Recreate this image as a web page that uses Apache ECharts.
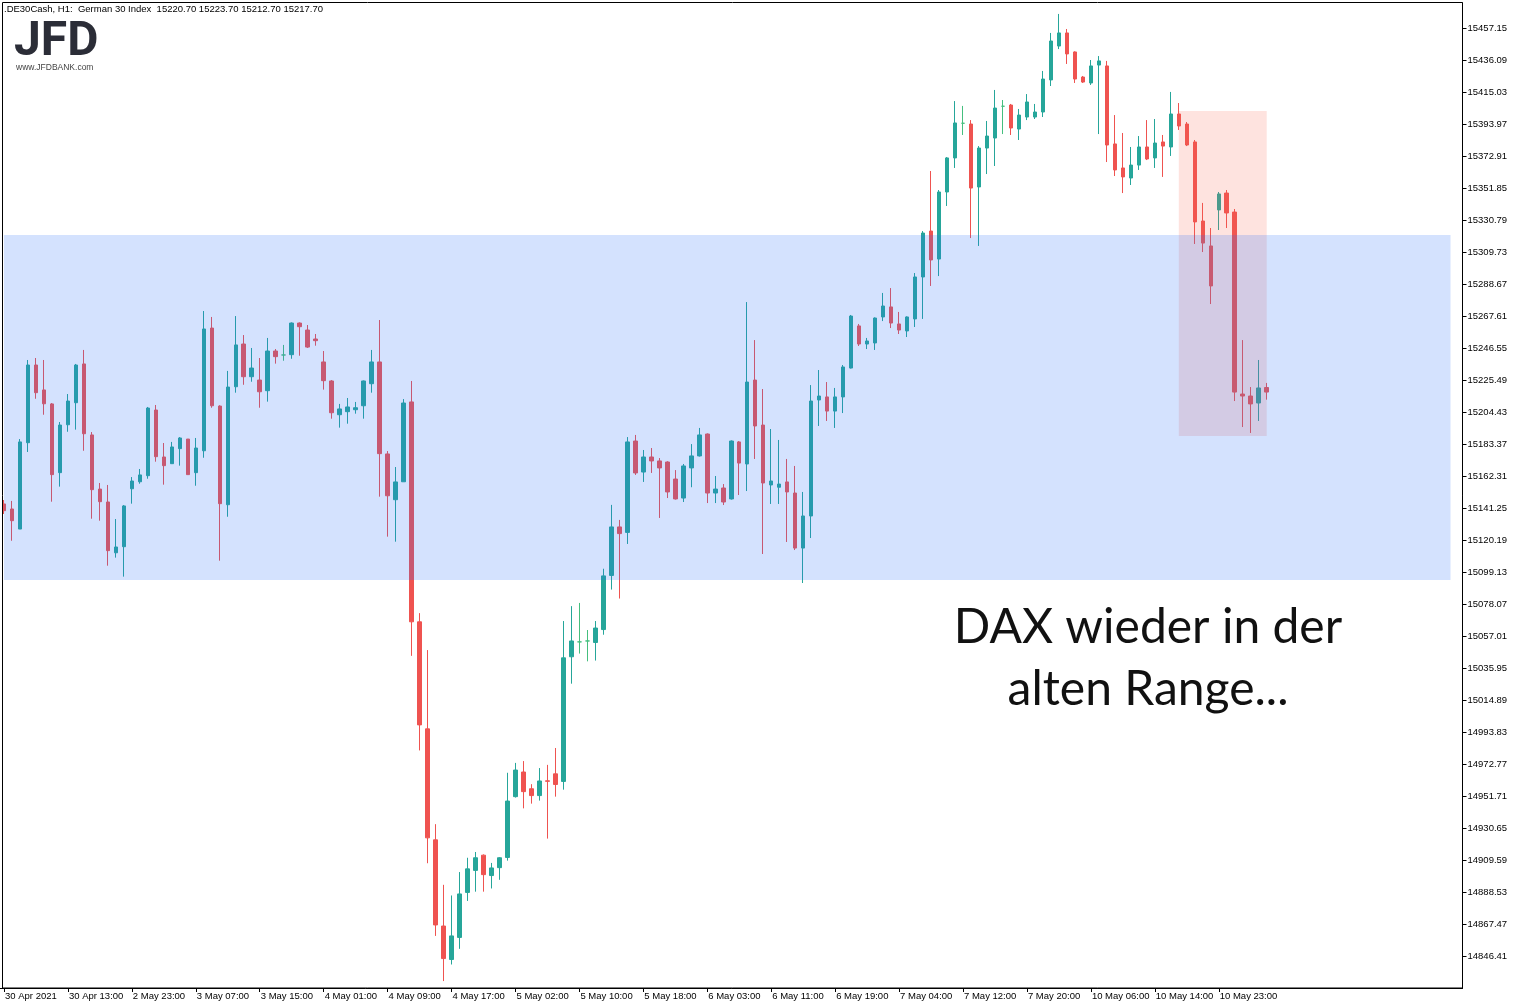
<!DOCTYPE html>
<html>
<head>
<meta charset="utf-8">
<style>
html,body{margin:0;padding:0;background:#fff;}
#chart{width:1520px;height:1008px;}
</style>
<script src="https://cdn.jsdelivr.net/npm/echarts@6/dist/echarts.min.js"></script>
</head>
<body>
<div id="chart"></div>
<script>
// ---------------- DATA ----------------
const symbolTitle = '.DE30Cash, H1:  German 30 Index';

const open = [
15144.1,15140.8,15127.6,15184.4,15235.5,15219.1,15209.9,15164.7,15196.2,15210.7,
15236.2,15189.5,15153.9,15145.4,15112.0,15116.0,15154.1,15158.7,15162.7,15205.9,
15175.0,15170.6,15180.5,15186.8,15164.7,15179.1,15259.8,15208.5,15143.6,15221.2,
15249.3,15227.8,15225.6,15218.6,15244.7,15242.1,15242.3,15263.1,15258.5,15252.6,
15237.5,15225.0,15202.8,15204.8,15206.1,15208.7,15223.2,15237.5,15177.0,15146.9,
15158.7,15211.2,15066.6,14996.2,14923.2,14866.5,14844.5,14859.0,14888.6,14903.1,
14913.1,14899.7,14904.9,14911.6,14951.6,14967.8,14956.8,14952.3,14962.0,14966.6,
14961.6,15043.6,15053.4,15054.0,15053.0,15061.5,15097.1,15129.0,15125.4,15185.5,
15165.1,15175.0,15172.4,15171.7,15160.5,15148.0,15167.8,15175.7,15190.1,15151.3,
15154.6,15147.4,15184.9,15170.4,15225.6,15196.0,15156.6,15155.1,15158.6,15151.3,
15115.1,15136.2,15212.5,15214.5,15205.2,15214.5,15233.5,15261.2,15249.3,15250.0,
15267.1,15273.7,15262.5,15257.9,15265.8,15293.4,15323.6,15305.2,15349.3,15371.7,
15394.5,15394.0,15352.6,15378.2,15384.8,15405.7,15406.5,15390.7,15398.6,15398.6,
15401.9,15423.0,15445.3,15453.9,15441.4,15424.9,15421.0,15432.8,15432.2,15380.9,
15365.1,15358.5,15367.0,15378.9,15371.7,15382.2,15378.9,15400.6,15394.0,15382.2,
15330.2,15313.8,15337.5,15348.6,15336.1,15216.4,15215.1,15210.5,15220.7
];
const close = [
15139.7,15133.1,15184.9,15235.5,15217.3,15210.0,15163.4,15196.0,15211.8,15235.5,
15190.3,15153.5,15145.6,15113.4,15115.8,15142.8,15159.2,15163.2,15207.2,15175.2,
15169.3,15181.6,15187.5,15163.4,15180.9,15259.2,15208.7,15144.3,15221.0,15248.7,
15227.8,15233.5,15217.9,15244.7,15241.0,15242.1,15263.1,15260.7,15247.3,15251.5,
15225.2,15204.1,15206.6,15207.9,15207.4,15225.0,15237.5,15177.2,15149.5,15158.6,
15210.5,15066.6,14998.8,14924.5,14867.2,14845.1,14860.0,14887.6,14904.1,14911.4,
14900.3,14904.7,14911.4,14948.7,14969.1,14954.9,14952.3,14961.9,14961.7,14959.6,
15042.9,15054.0,15053.4,15054.0,15062.5,15096.8,15129.0,15124.6,15184.9,15164.5,
15175.0,15172.4,15167.8,15152.0,15147.4,15169.1,15175.7,15189.5,15151.3,15153.9,
15145.4,15185.5,15171.0,15224.3,15195.4,15157.9,15159.2,15157.2,15152.0,15115.1,
15136.2,15211.8,15215.1,15205.2,15214.5,15234.2,15267.7,15249.3,15251.3,15266.4,
15274.3,15263.1,15258.5,15267.1,15293.4,15322.3,15304.6,15349.3,15371.7,15394.7,
15394.5,15351.9,15378.2,15386.1,15404.5,15405.7,15391.4,15399.9,15408.5,15401.9,
15423.6,15448.6,15453.9,15440.1,15423.6,15421.6,15432.2,15435.5,15380.2,15363.8,
15359.2,15367.0,15378.9,15371.0,15381.5,15379.5,15400.6,15392.7,15380.2,15329.6,
15315.7,15287.5,15348.0,15335.5,15217.7,15215.1,15209.9,15220.4,15217.7
];
const low = [
15137.5,15119.9,15127.6,15178.3,15213.3,15202.8,15145.6,15155.5,15191.6,15193.0,
15179.1,15134.4,15133.1,15103.5,15108.8,15096.3,15144.3,15157.4,15160.7,15171.9,
15156.8,15170.6,15169.3,15163.4,15156.1,15174.5,15207.4,15106.8,15135.7,15217.3,
15222.5,15224.5,15207.4,15211.4,15236.4,15238.3,15239.6,15241.6,15246.7,15248.2,
15219.3,15200.2,15194.3,15196.9,15203.5,15200.2,15217.3,15148.9,15122.6,15119.3,
15158.7,15044.2,14982.0,14907.8,14860.0,14830.3,14841.2,14851.5,14883.0,14889.1,
14889.1,14891.2,14896.9,14909.5,14951.0,14943.9,14947.0,14949.0,14924.0,14951.6,
14956.2,15025.9,15045.7,15040.6,15041.1,15058.1,15087.8,15081.9,15117.8,15163.2,
15158.6,15164.5,15134.9,15148.0,15147.0,15145.4,15155.1,15175.3,15144.7,15144.7,
15143.4,15147.0,15150.0,15152.6,15173.7,15111.2,15144.1,15144.1,15119.1,15113.8,
15092.1,15121.7,15195.4,15198.7,15194.1,15203.9,15233.2,15248.0,15246.0,15245.4,
15264.4,15259.8,15255.9,15253.9,15260.5,15265.8,15287.5,15294.0,15340.1,15365.1,
15386.8,15319.0,15313.8,15361.1,15366.4,15387.4,15386.8,15383.5,15396.6,15397.3,
15398.6,15419.0,15443.3,15433.5,15421.0,15421.0,15419.7,15387.4,15369.0,15359.8,
15348.6,15353.9,15363.8,15370.3,15365.1,15359.2,15373.0,15390.1,15379.5,15315.1,
15309.8,15275.6,15324.3,15325.6,15211.8,15194.7,15190.8,15198.7,15212.7
];
const high = [
15146.7,15146.1,15186.8,15238.8,15240.1,15238.8,15210.5,15198.0,15216.4,15236.2,
15245.4,15191.4,15157.9,15156.6,15134.2,15143.4,15161.8,15167.1,15207.9,15209.2,
15184.2,15184.9,15188.1,15186.8,15187.5,15271.0,15267.1,15209.0,15231.6,15267.7,
15255.2,15246.7,15240.1,15253.3,15246.0,15248.7,15263.5,15263.5,15261.8,15255.9,
15244.7,15225.6,15209.9,15213.8,15211.2,15225.3,15245.4,15265.1,15178.9,15168.4,
15213.1,15225.0,15072.3,15048.0,14933.5,14893.6,14886.6,14902.0,14911.4,14915.2,
14913.6,14908.0,14911.8,14967.3,14973.8,14975.0,14959.8,14970.4,14972.5,14983.6,
15067.1,15076.9,15079.0,15061.2,15067.1,15101.5,15143.5,15133.6,15188.1,15189.5,
15179.6,15180.9,15174.3,15172.2,15166.4,15170.4,15183.5,15194.1,15190.5,15162.5,
15157.2,15185.9,15185.5,15276.9,15251.9,15219.7,15193.4,15186.2,15173.7,15169.1,
15152.0,15222.3,15232.2,15224.3,15220.4,15235.5,15268.4,15262.5,15253.3,15266.8,
15282.9,15286.1,15270.4,15267.5,15296.0,15323.6,15363.1,15350.6,15372.3,15409.1,
15405.9,15396.6,15379.5,15396.0,15416.4,15409.8,15407.2,15403.9,15413.7,15407.2,
15428.9,15453.9,15466.4,15456.5,15441.8,15425.6,15436.1,15438.7,15435.5,15399.9,
15388.1,15378.9,15386.1,15396.6,15397.3,15386.8,15415.1,15407.8,15395.3,15383.5,
15342.1,15325.6,15349.3,15350.6,15338.1,15251.9,15221.0,15238.8,15223.7
];

// time labels shown every 8 bars
const timeLabels = ['30 Apr 2021','30 Apr 13:00','2 May 23:00','3 May 07:00','3 May 15:00',
  '4 May 01:00','4 May 09:00','4 May 17:00','5 May 02:00','5 May 10:00','5 May 18:00',
  '6 May 03:00','6 May 11:00','6 May 19:00','7 May 04:00','7 May 12:00','7 May 20:00',
  '10 May 06:00','10 May 14:00','10 May 23:00'];
const barsPerLabel = 8;

// price scale tick labels
const priceTicks = [14846.41,14867.47,14888.53,14909.59,14930.65,14951.71,14972.77,14993.83,
  15014.89,15035.95,15057.01,15078.07,15099.13,15120.19,15141.25,15162.31,15183.37,15204.43,
  15225.49,15246.55,15267.61,15288.67,15309.73,15330.79,15351.85,15372.91,15393.97,15415.03,
  15436.09,15457.15];
const priceMin = 14825.74, priceMax = 15473.6;

// "old range" band and highlighted drop box
const rangeTop = 15321.0, rangeBottom = 15094.1;
const rangeFromBar = 0, rangeToBar = 181;
const boxTop = 15402.6, boxBottom = 15188.8;
const boxFromBar = 147, boxToBar = 158;

const annotation = ['DAX wieder in der', 'alten Range...'];

// ---------------- CHART ----------------
const emptySlotsRight = 24;
const categories = Array.from({length: open.length + emptySlotsRight}, (_, i) => String(i));
const candles = open.map((o, i) => [o, close[i], low[i], high[i]]);
const last = open.length - 1;
const headerText = symbolTitle + '  ' + [open[last], high[last], low[last], close[last]].map(v => v.toFixed(2)).join(' ');
const showTick = (i) => i % barsPerLabel === 0 && i / barsPerLabel < timeLabels.length;

const axisFont = 'Liberation Sans';
const chart = echarts.init(document.getElementById('chart'), null, {renderer: 'canvas'});
chart.setOption({
  animation: false,
  backgroundColor: '#ffffff',
  title: {
    text: headerText, left: 4, top: 4, padding: 0,
    textStyle: {fontSize: 9.5, fontWeight: 'normal', color: '#000', fontFamily: axisFont}
  },
  grid: {left: -1.5, right: 57.5, top: 3, bottom: 20, containLabel: false},
  xAxis: {
    type: 'category', data: categories, boundaryGap: true,
    axisLine: {show: true, lineStyle: {color: '#000', width: 1}},
    axisTick: {show: true, alignWithLabel: true, interval: showTick, length: 4, lineStyle: {color: '#000'}},
    axisLabel: {
      interval: showTick, align: 'left', margin: 3, padding: [0, 0, 0, 1],
      formatter: (v) => timeLabels[Number(v) / barsPerLabel] || '',
      fontSize: 9.5, color: '#000', fontFamily: axisFont
    },
    splitLine: {show: false}
  },
  yAxis: {
    type: 'value', position: 'right', min: priceMin, max: priceMax, scale: true,
    axisLine: {show: true, lineStyle: {color: '#000', width: 1}},
    axisTick: {show: true, length: 4, customValues: priceTicks, lineStyle: {color: '#000'}},
    axisLabel: {customValues: priceTicks, formatter: (v) => v.toFixed(2), margin: 5,
      fontSize: 9.5, color: '#000', fontFamily: axisFont},
    splitLine: {show: false}
  },
  series: [
    {
      type: 'candlestick', data: candles, barWidth: 4, z: 2,
      itemStyle: {
        color: '#26A69A', color0: '#EF5350',
        borderColor: '#26A69A', borderColor0: '#EF5350', borderColorDoji: '#45BF7E',
        borderWidth: 1
      }
    },
    {
      type: 'line', data: [], z: 3, silent: true,
      markArea: {
        silent: true, z: 3,
        itemStyle: {color: 'rgba(250,100,80,0.18)'},
        data: [[{xAxis: boxFromBar, yAxis: boxTop}, {xAxis: boxToBar, yAxis: boxBottom}]]
      }
    },
    {
      type: 'line', data: [], z: 4, silent: true,
      markArea: {
        silent: true, z: 4,
        itemStyle: {color: 'rgba(40,110,250,0.2)'},
        data: [[{xAxis: rangeFromBar, yAxis: rangeTop}, {xAxis: rangeToBar, yAxis: rangeBottom}]]
      }
    }
  ],
  graphic: [
    {type: 'rect', z: 50, silent: true,
      shape: {x: 2.5, y: 2.5, width: 1460, height: 985.5},
      style: {fill: null, stroke: '#000', lineWidth: 1}},
    {type: 'text', z: 60, silent: true, x: 14, y: 42.5,
      style: {text: 'JFD', font: 'bold 48px Roboto', fill: '#2b2d37', verticalAlign: 'middle'}},
    {type: 'text', z: 60, silent: true, x: 16, y: 68,
      style: {text: 'www.JFDBANK.com', font: '8.5px "Liberation Sans"', fill: '#444', verticalAlign: 'middle'}},
    {type: 'text', z: 60, silent: true, x: 1148, y: 628,
      style: {text: annotation[0], font: '48px Lato', fill: '#111', align: 'center', verticalAlign: 'middle'}},
    {type: 'text', z: 60, silent: true, x: 1148, y: 690,
      style: {text: annotation[1], font: '48px Lato', fill: '#111', align: 'center', verticalAlign: 'middle'}}
  ]
});
</script>
</body>
</html>
